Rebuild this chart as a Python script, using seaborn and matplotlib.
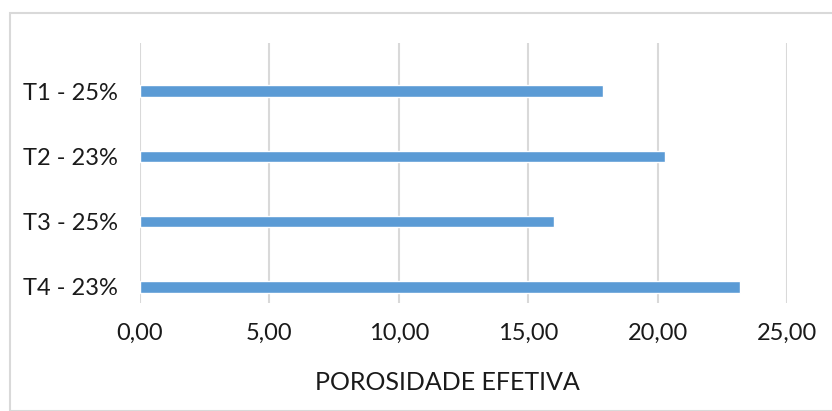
import matplotlib
matplotlib.use("Agg")
import matplotlib.pyplot as plt
import seaborn as sns
import pandas as pd
from matplotlib.patches import Rectangle
from matplotlib.ticker import FuncFormatter

categories = ["T1 - 25%", "T2 - 23%", "T3 - 25%", "T4 - 23%"]
values = [17.88, 20.30, 15.98, 23.19]
xticks = [0, 5, 10, 15, 20, 25]
xlabel = "POROSIDADE EFETIVA"

df = pd.DataFrame({"cat": categories, "val": values})

sns.set_theme(style="white")
plt.rcParams["font.family"] = ["Lato", "DejaVu Sans"]

fig = plt.figure(figsize=(8.32, 4.11), dpi=100)
ax = fig.add_axes([140/832, 1-303/411, (787-140)/832, (303-43)/411])

sns.barplot(data=df, x="val", y="cat", ax=ax, color="#5B9BD5", width=0.17,
            saturation=1, orient="h", zorder=3)

ax.set_xlim(0, 25)
ax.set_ylim(3.245, -0.735)
ax.set_xticks(xticks)
ax.xaxis.set_major_formatter(FuncFormatter(lambda v, p: f"{v:.2f}".replace(".", ",")))
ax.grid(axis="x", color="#d9d9d9", linewidth=1.5, zorder=0)
ax.grid(axis="y", visible=False)
for s in ax.spines.values():
    s.set_visible(False)
ax.tick_params(axis="both", length=0, labelsize=17, colors="#1a1a1a")
ax.tick_params(axis="x", pad=14)
ax.tick_params(axis="y", pad=16)
ax.set_xlabel("")
ax.set_ylabel("")

fig.text(447/832, 1-382/411, xlabel, ha="center", va="center", fontsize=18, color="#1a1a1a")

fig.patches.append(Rectangle((10/832, 0), 2.0, 1-13/411, transform=fig.transFigure,
                             fill=False, edgecolor="#d9d9d9", linewidth=1.5))

fig.savefig("out.png", dpi=100)
